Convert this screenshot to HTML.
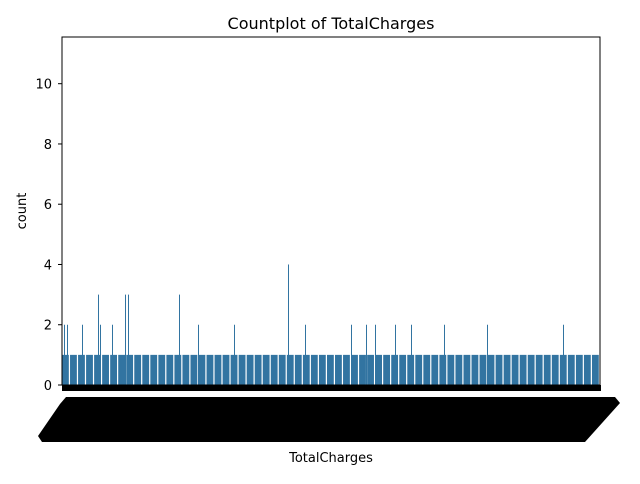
<!DOCTYPE html>
<html><head><meta charset="utf-8"><style>
body{margin:0;background:#fff;font-family:"DejaVu Sans","Liberation Sans",sans-serif}
svg text{font-family:"DejaVu Sans","Liberation Sans",sans-serif}
</style></head><body>
<svg id="c" width="640" height="480" xmlns="http://www.w3.org/2000/svg">
<text x="331" y="29" font-size="16" text-anchor="middle">Countplot of TotalCharges</text>
<text x="331" y="462" font-size="13" text-anchor="middle">TotalCharges</text>
<text x="26" y="211" font-size="13" text-anchor="middle" transform="rotate(-90 26 211)">count</text>
<g id="bars"></g>
<g id="spikes"></g>
<rect x="62" y="385" width="539" height="6" fill="#000"/>
<polygon points="66,397 615,397 620,403 585,442 42,442 38,436 60,404" fill="#000"/>
<g id="yticks"></g>
<rect x="62" y="37" width="538" height="348" fill="none" stroke="#000" stroke-width="1"/>
</svg>
<script>
const groupCounts = Array(67).fill(1);
const spikeCats = [2,5,20,36,38,50,63,66,117,136,172,226,243,289,304,313,333,349,382,425,501];
const spikeCounts = [2,2,2,3,2,2,3,3,3,2,2,4,2,2,2,2,2,2,2,2,2];
const yTicks = [0,2,4,6,8,10];
const nCats = 538;
const x0=62,x1=600,yTop=37,yBot=385,yMax=11.55;
const NS="http://www.w3.org/2000/svg";
const y=v=>yBot-(v/yMax)*(yBot-yTop);
const bars=document.getElementById('bars');
const gw=(x1-x0)/groupCounts.length;
groupCounts.forEach((v,i)=>{
  const r=document.createElementNS(NS,'rect');
  r.setAttribute('x',x0+i*gw);r.setAttribute('width',gw-1.2);
  r.setAttribute('y',y(v));r.setAttribute('height',yBot-y(v));
  r.setAttribute('fill','#3274a1');
  
  
  bars.appendChild(r);
});
const sp=document.getElementById('spikes');
spikeCats.forEach((c,i)=>{
  const r=document.createElementNS(NS,'rect');
  const v=spikeCounts[i];
  r.setAttribute('x',x0+c*(x1-x0)/nCats);r.setAttribute('width',1);
  r.setAttribute('y',y(v));r.setAttribute('height',yBot-y(v));
  r.setAttribute('fill','#3274a1');
  
  
  sp.appendChild(r);
});
const yt=document.getElementById('yticks');
yTicks.forEach(t=>{
  const l=document.createElementNS(NS,'line');
  l.setAttribute('x1',58);l.setAttribute('x2',62);l.setAttribute('y1',y(t));l.setAttribute('y2',y(t));
  l.setAttribute('stroke','#000');
  
  
  yt.appendChild(l);
  const tx=document.createElementNS(NS,'text');
  tx.setAttribute('x',52);tx.setAttribute('y',y(t)+5);tx.setAttribute('font-size','13');tx.setAttribute('text-anchor','end');
  tx.textContent=t;
  
  
  yt.appendChild(tx);
});
</script>
</body></html>
